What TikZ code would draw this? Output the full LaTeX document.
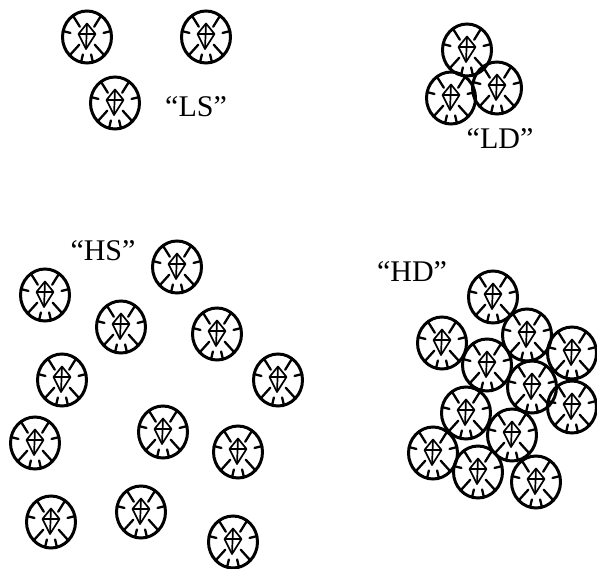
\documentclass[tikz,border=0pt]{standalone}
\usepackage{fontspec}
\setmainfont{Liberation Serif}
\begin{document}
\begin{tikzpicture}[x=1pt,y=-1pt]
\tikzset{
  rim/.style={line width=3pt},
  thin/.style={line width=2.3pt, line cap=round, line join=round},
  kite/.style={line width=1.7pt, line join=round},
  tag/.style={anchor=base, inner sep=0pt, font=\fontsize{30}{30}\selectfont},
  % one particle: outlined disc with an X, short rim ticks and a kite in the middle
  cell/.pic={
    \begin{scope}[yscale=-1]
      \draw[rim] (0,0) ellipse [x radius=24.5, y radius=26];
      \foreach \a in {125,55} \draw[thin] (\a:24.5 and 26) -- (\a:12.5);
      \foreach \a in {225,315} \draw[thin] (\a:24.5 and 26) -- (\a:11);
      \foreach \a in {167,13,256,284} \draw[thin] (\a:24.5 and 26) -- (\a:17 and 18);
      \draw[kite] (0,13.5) -- (-8.5,3) -- (-1,-12) -- (8.5,3) -- cycle;
      \draw[kite] (0,13.5) -- (-1,-12) (-8.5,3) -- (8.5,3);
    \end{scope}
  }
}
\useasboundingbox (0,0) rectangle (597,569);

% low density, small scale
\foreach \x/\y [count=\i] in {87/37, 206/37, 115/103}
  \pic (ls\i) at (\x,\y) {cell};
\node[tag] (lsTag) at (196,117) {“LS”};

% low density, dense packing
\foreach \x/\y [count=\i] in {467/50, 451/98, 497/88}
  \pic (ld\i) at (\x,\y) {cell};
\node[tag] (ldTag) at (500,149) {“LD”};

% high number, spread out
\foreach \x/\y [count=\i] in {45/295, 177/267, 121/327, 217/334, 62/380, 278/380,
                              35/443, 163/432, 238/452, 51/522, 141/512, 233/542}
  \pic (hs\i) at (\x,\y) {cell};
\node[tag] (hsTag) at (103,261) {“HS”};

% high number, dense packing
\foreach \x/\y [count=\i] in {493/297, 442/343, 527/335, 572/353, 487/365, 532/387,
                              572/407, 466/413, 512/435, 433/453, 478/472, 536/482}
  \pic (hd\i) at (\x,\y) {cell};
\node[tag] (hdTag) at (412,282) {“HD”};
\end{tikzpicture}
\end{document}
